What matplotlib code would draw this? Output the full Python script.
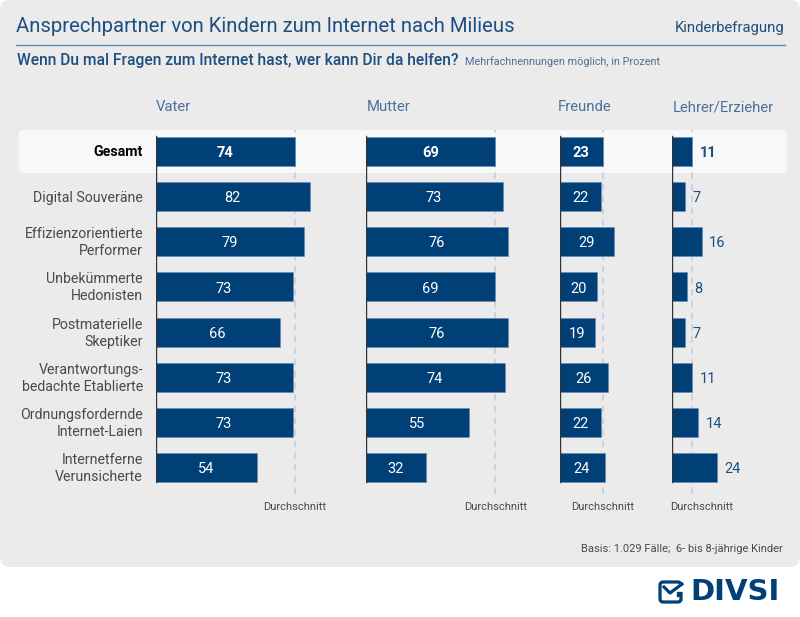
import matplotlib
matplotlib.use('Agg')
import matplotlib.pyplot as plt
from matplotlib.patches import FancyBboxPatch, Rectangle

plt.rcParams['font.family'] = ['Roboto', 'DejaVu Sans']

milieus = ['Gesamt', 'Digital Souveräne', 'Effizienzorientierte\nPerformer',
           'Unbekümmerte\nHedonisten', 'Postmaterielle\nSkeptiker',
           'Verantwortungs-\nbedachte Etablierte', 'Ordnungsfordernde\nInternet-Laien',
           'Internetferne\nVerunsicherte']
vater = [74, 82, 79, 73, 66, 73, 73, 54]
mutter = [69, 73, 76, 69, 76, 74, 55, 32]
freunde = [23, 22, 29, 20, 19, 26, 22, 24]
lehrer = [11, 7, 16, 8, 7, 11, 14, 24]

# name, values, left edge, header x, centre of the "Durchschnitt" label
panels = [('Vater', vater, 155.5, 156, 295), ('Mutter', mutter, 365.5, 366.5, 496),
          ('Freunde', freunde, 559.5, 558, 603), ('Lehrer/Erzieher', lehrer, 671.5, 672.5, 702)]

W, H = 800, 617
BLUE = '#004077'
TITLE = '#1d4f80'
HEAD = '#4a719b'
GREY = '#4a4a4a'
PANEL = '#ebebeb'
PX_PER_UNIT = 1.88
ROW0 = 151.5
ROW_STEP = 45.15

fig = plt.figure(figsize=(W / 100, H / 100), dpi=100, facecolor='white')

# backdrop and all the page furniture, in pixel coordinates
bg = fig.add_axes([0, 0, 1, 1])
bg.set_xlim(0, W)
bg.set_ylim(H, 0)
bg.axis('off')
bg.add_patch(Rectangle((0, 10), 800, 547, fc=PANEL, ec='none'))
bg.add_patch(Rectangle((10, 0), 780, 567, fc=PANEL, ec='none'))
for cx, cy in [(0, 0), (780, 0), (0, 547), (780, 547)]:
    bg.add_patch(FancyBboxPatch((cx, cy), 20, 20, boxstyle='round,pad=0,rounding_size=10',
                                fc=PANEL, ec='none'))
bg.add_patch(FancyBboxPatch((19, 130), 768, 43, boxstyle='round,pad=0,rounding_size=4',
                            fc='#f8f8f8', ec='none'))
bg.plot([16, 785], [44.5, 44.5], color='#5f8cb8', lw=1)

bg.text(16, 26, 'Ansprechpartner von Kindern zum Internet nach Milieus', fontsize=14.6,
        color=TITLE, va='center', ha='left')
bg.text(785, 28, 'Kinderbefragung', fontsize=10.7, color=TITLE, va='center', ha='right')
bg.text(17, 61, 'Wenn Du mal Fragen zum Internet hast, wer kann Dir da helfen?', fontsize=11.25,
        color=TITLE, va='center', ha='left', fontweight='medium')
bg.text(465, 62, 'Mehrfachnennungen möglich, in Prozent', fontsize=7.85, color=HEAD,
        va='center', ha='left')
bg.text(783, 549, 'Basis: 1.029 Fälle;  6- bis 8-jährige Kinder', fontsize=8, color=GREY,
        va='center', ha='right')

# logo
bg.add_patch(FancyBboxPatch((660, 582), 21, 20, boxstyle='round,pad=0,rounding_size=3',
                            fc='none', ec=BLUE, lw=2.3))
bg.add_patch(Rectangle((677, 586), 7, 6, fc='white', ec='none'))
bg.plot([664, 670, 682], [587, 593, 584], color=BLUE, lw=2.3)
bg.plot([679], [593.5], 's', color=BLUE, ms=2.3)
bg.text(780, 592, 'DIVSI', fontsize=21, fontweight='bold', color=BLUE, va='center', ha='right',
        family='DejaVu Sans')

# row labels
for i, label in enumerate(milieus):
    bg.text(143, ROW0 + 1 + ROW_STEP * i, label, ha='right', va='center', fontsize=10.2,
            color='black' if i == 0 else GREY, fontweight='bold' if i == 0 else 'normal',
            linespacing=1.28)

for name, values, x0, head_x, avg_x in panels:
    width = 200
    ax = fig.add_axes([x0 / W, 1 - 494 / H, width / W, 364 / H])
    ax.patch.set_alpha(0)
    ax.set_xlim(0, width / PX_PER_UNIT)
    # axes span pixels 130 to 494, row i sits at ROW0 + ROW_STEP * i
    ax.set_ylim((494 - ROW0) / ROW_STEP, (130 - ROW0) / ROW_STEP)
    ax.axis('off')

    avg = values[0]
    ax.axvline(avg, color='#c5cde0', lw=1.2, dashes=(4, 3), zorder=1)
    ax.barh(range(len(values)), values, height=29 / ROW_STEP, color=BLUE, edgecolor='#5f8cb8',
            linewidth=0.4, zorder=2)
    ax.plot([0, 0], [(136 - ROW0) / ROW_STEP, (482 - ROW0) / ROW_STEP], color='#333333', lw=1, zorder=3)

    for i, v in enumerate(values):
        weight = 'bold' if i == 0 else 'normal'
        if name == 'Lehrer/Erzieher':
            ax.annotate(str(v), (v, i), xytext=(5.5, -1.2), textcoords='offset points', va='center',
                        ha='left', fontsize=10.5, color=TITLE, fontweight=weight)
        else:
            ax.annotate(str(v), (v / 2, i), xytext=(0, -1.2), textcoords='offset points', ha='center',
                        va='center', fontsize=10.5, color='white', fontweight=weight, zorder=4)

    bg.text(head_x, 107, name, fontsize=10.7, color=HEAD, va='center', ha='left')
    bg.text(avg_x, 507, 'Durchschnitt', fontsize=8, color=GREY, va='center', ha='center')

fig.savefig('out.png', dpi=100)
